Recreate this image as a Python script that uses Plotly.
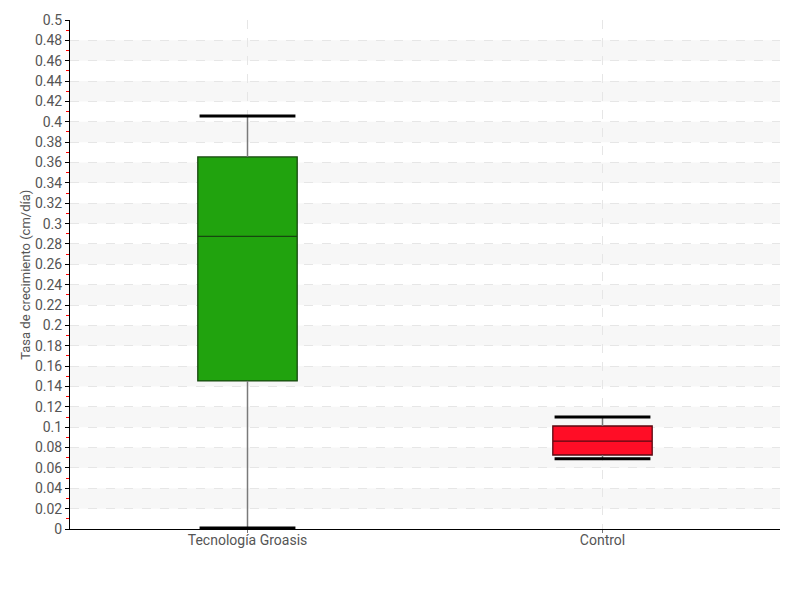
import plotly.graph_objects as go

categories = ["Tecnología Groasis", "Control"]
lower_whisker = [0.001, 0.069]
q1_vals = [0.1455, 0.0727]
median_vals = [0.2875, 0.0864]
q3_vals = [0.3655, 0.1012]
upper_whisker = [0.4057, 0.1100]
fill_colors = ["#21a30e", "#ff0d26"]
edge_colors = ["#17470f", "#5a0a12"]

y_ticks = [round(i * 0.02, 2) for i in range(26)]
y_ticktext = ["0" if v == 0 else ("%g" % v) for v in y_ticks]
y_title = "Tasa de crecimiento (cm/día)"

positions = list(range(len(categories)))
box_width = 0.28
cap_half = 0.135

fig = go.Figure()

# whisker stems (behind boxes)
for i, p in enumerate(positions):
    fig.add_trace(go.Scatter(x=[p, p, None, p, p],
                             y=[lower_whisker[i], q1_vals[i], None, q3_vals[i], upper_whisker[i]],
                             mode="lines", line=dict(color="#7a7a7a", width=1.5),
                             hoverinfo="skip", showlegend=False))

for i, p in enumerate(positions):
    fig.add_trace(go.Box(x=[p], q1=[q1_vals[i]], median=[median_vals[i]], q3=[q3_vals[i]],
                         lowerfence=[q1_vals[i]], upperfence=[q3_vals[i]],
                         width=box_width, whiskerwidth=0,
                         fillcolor=fill_colors[i], line=dict(color=edge_colors[i], width=1.3),
                         showlegend=False, name=categories[i]))

# caps
for i, p in enumerate(positions):
    fig.add_trace(go.Scatter(x=[p - cap_half, p + cap_half, None, p - cap_half, p + cap_half],
                             y=[lower_whisker[i], lower_whisker[i], None, upper_whisker[i], upper_whisker[i]],
                             mode="lines", line=dict(color="black", width=3),
                             hoverinfo="skip", showlegend=False))

shapes = []
for k in range(1, len(y_ticks) - 1, 2):
    shapes.append(dict(type="rect", xref="paper", yref="y", x0=0, x1=1,
                       y0=y_ticks[k], y1=y_ticks[k + 1],
                       fillcolor="#f7f7f7", line=dict(width=0), layer="below"))

font_family = "Roboto, sans-serif"

fig.update_layout(
    width=800, height=600,
    margin=dict(l=62, r=28, t=12, b=79),
    plot_bgcolor="white", paper_bgcolor="white",
    font=dict(family=font_family, color="#555555", size=14),
    shapes=shapes,
    annotations=[dict(text=y_title, xref="paper", yref="paper", x=-0.063, y=0.5,
                      xanchor="center", yanchor="middle", textangle=-90, showarrow=False,
                      font=dict(size=13, color="#555555"))],
    xaxis=dict(range=[-0.5, 1.5], tickvals=positions, ticktext=categories,
               showgrid=True, gridcolor="#e6e6e6", griddash="dash", gridwidth=1,
               showline=True, linecolor="black", linewidth=1,
               ticks="outside", ticklen=3, tickcolor="#777777",
               zeroline=False, automargin=False, ticklabelstandoff=-5,
               tickfont=dict(size=14, color="#555555")),
    yaxis=dict(range=[0, 0.5], tickvals=y_ticks, ticktext=y_ticktext,
               showgrid=True, gridcolor="#e6e6e6", griddash="dash", gridwidth=1,
               showline=True, linecolor="black", linewidth=1,
               ticks="outside", ticklen=4, tickcolor="black",
               zeroline=False, automargin=False,
               tickfont=dict(size=14, color="#555555"),
               minor=dict(dtick=0.02, tick0=0.01, ticks="outside", ticklen=3,
                          tickcolor="red", showgrid=False)),
)

fig.write_html("out.html")
